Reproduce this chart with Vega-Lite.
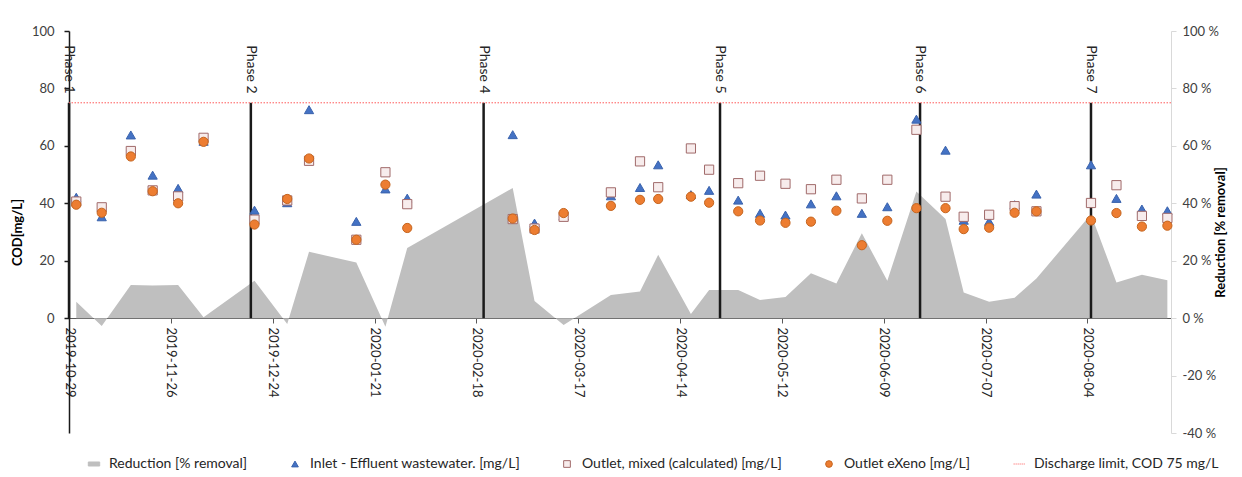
{
  "$schema": "https://vega.github.io/schema/vega-lite/v6.json",
  "width": 1102,
  "height": 402,
  "padding": {"left": 11, "top": 25, "right": 0, "bottom": 0},
  "background": "white",
  "config": {
    "font": "Lato",
    "view": {"stroke": null},
    "axis": {"grid": false}
  },
  "datasets": {
    "samples": [
      {"date": "2019-10-31", "inlet": 42.1, "mixed": 40.6, "exeno": 39.5, "reduction": 5.7},
      {"date": "2019-11-07", "inlet": 35.3, "mixed": 38.6, "exeno": 36.7, "reduction": -2.7},
      {"date": "2019-11-15", "inlet": 63.8, "mixed": 58.2, "exeno": 56.3, "reduction": 11.5},
      {"date": "2019-11-21", "inlet": 49.8, "mixed": 44.5, "exeno": 44.2, "reduction": 11.4},
      {"date": "2019-11-28", "inlet": 45.2, "mixed": 42.4, "exeno": 40.0, "reduction": 11.5},
      {"date": "2019-12-05", "inlet": 61.6, "mixed": 62.8, "exeno": 61.4, "reduction": 0.3},
      {"date": "2019-12-19", "inlet": 37.6, "mixed": 34.3, "exeno": 32.6, "reduction": 13.0},
      {"date": "2019-12-28", "inlet": 40.2, "mixed": 41.0, "exeno": 41.5, "reduction": -2.0},
      {"date": "2020-01-03", "inlet": 72.6, "mixed": 54.8, "exeno": 55.6, "reduction": 23.1},
      {"date": "2020-01-16", "inlet": 33.7, "mixed": 27.3, "exeno": 27.3, "reduction": 19.4},
      {"date": "2020-01-24", "inlet": 45.0, "mixed": 50.8, "exeno": 46.5, "reduction": -3.0},
      {"date": "2020-01-30", "inlet": 41.8, "mixed": 39.7, "exeno": 31.4, "reduction": 24.4},
      {"date": "2020-02-28", "inlet": 63.9, "mixed": 34.5, "exeno": 34.7, "reduction": 45.3},
      {"date": "2020-03-05", "inlet": 33.1, "mixed": 31.2, "exeno": 30.7, "reduction": 6.0},
      {"date": "2020-03-13", "inlet": 35.6, "mixed": 35.3, "exeno": 36.6, "reduction": -2.4},
      {"date": "2020-03-26", "inlet": 42.6, "mixed": 43.8, "exeno": 39.1, "reduction": 8.1},
      {"date": "2020-04-03", "inlet": 45.5, "mixed": 54.6, "exeno": 41.2, "reduction": 9.3},
      {"date": "2020-04-08", "inlet": 53.4, "mixed": 45.6, "exeno": 41.5, "reduction": 22.1},
      {"date": "2020-04-17", "inlet": 43.0, "mixed": 59.1, "exeno": 42.3, "reduction": 1.4},
      {"date": "2020-04-22", "inlet": 44.5, "mixed": 51.7, "exeno": 40.2, "reduction": 9.8},
      {"date": "2020-04-30", "inlet": 41.1, "mixed": 47.0, "exeno": 37.2, "reduction": 9.8},
      {"date": "2020-05-06", "inlet": 36.5, "mixed": 49.6, "exeno": 34.0, "reduction": 6.3},
      {"date": "2020-05-13", "inlet": 35.9, "mixed": 46.8, "exeno": 33.2, "reduction": 7.4},
      {"date": "2020-05-20", "inlet": 39.8, "mixed": 44.9, "exeno": 33.6, "reduction": 15.6},
      {"date": "2020-05-27", "inlet": 42.6, "mixed": 48.2, "exeno": 37.4, "reduction": 12.1},
      {"date": "2020-06-03", "inlet": 36.5, "mixed": 41.7, "exeno": 25.4, "reduction": 29.6},
      {"date": "2020-06-10", "inlet": 38.8, "mixed": 48.2, "exeno": 33.9, "reduction": 13.0},
      {"date": "2020-06-18", "inlet": 69.3, "mixed": 65.6, "exeno": 38.3, "reduction": 44.1},
      {"date": "2020-06-26", "inlet": 58.5, "mixed": 42.3, "exeno": 38.3, "reduction": 34.5},
      {"date": "2020-07-01", "inlet": 34.1, "mixed": 35.3, "exeno": 31.0, "reduction": 8.9},
      {"date": "2020-07-08", "inlet": 33.7, "mixed": 36.0, "exeno": 31.5, "reduction": 5.7},
      {"date": "2020-07-15", "inlet": 39.5, "mixed": 39.0, "exeno": 36.7, "reduction": 7.1},
      {"date": "2020-07-21", "inlet": 43.2, "mixed": 37.2, "exeno": 37.2, "reduction": 13.8},
      {"date": "2020-08-05", "inlet": 53.4, "mixed": 40.1, "exeno": 34.0, "reduction": 36.2},
      {"date": "2020-08-12", "inlet": 41.7, "mixed": 46.3, "exeno": 36.6, "reduction": 12.4},
      {"date": "2020-08-19", "inlet": 38.0, "mixed": 35.6, "exeno": 31.9, "reduction": 15.1},
      {"date": "2020-08-26", "inlet": 37.4, "mixed": 34.9, "exeno": 32.2, "reduction": 13.2}
    ],
    "phases": [
      {"phase": "Phase 1", "date": "2019-10-29"},
      {"phase": "Phase 2", "date": "2019-12-18"},
      {"phase": "Phase 4", "date": "2020-02-20"},
      {"phase": "Phase 5", "date": "2020-04-25"},
      {"phase": "Phase 6", "date": "2020-06-19"},
      {"phase": "Phase 7", "date": "2020-08-05"}
    ],
    "limit": [{"limit": 75}]
  },
  "layer": [
    {
      "data": {"name": "samples"},
      "mark": {"type": "area", "color": "#bfbfbf", "opacity": 1},
      "encoding": {
        "x": {
          "field": "date",
          "type": "temporal",
          "scale": {
            "type": "utc",
            "domain": [
              {"year": 2019, "month": 10, "date": 29, "utc": true},
              {"year": 2020, "month": 8, "date": 27, "utc": true}
            ]
          },
          "axis": {
            "orient": "bottom",
            "offset": -115,
            "title": null,
            "values": [
              {"year": 2019, "month": 10, "date": 29, "utc": true},
              {"year": 2019, "month": 11, "date": 26, "utc": true},
              {"year": 2019, "month": 12, "date": 24, "utc": true},
              {"year": 2020, "month": 1, "date": 21, "utc": true},
              {"year": 2020, "month": 2, "date": 18, "utc": true},
              {"year": 2020, "month": 3, "date": 17, "utc": true},
              {"year": 2020, "month": 4, "date": 14, "utc": true},
              {"year": 2020, "month": 5, "date": 12, "utc": true},
              {"year": 2020, "month": 6, "date": 9, "utc": true},
              {"year": 2020, "month": 7, "date": 7, "utc": true},
              {"year": 2020, "month": 8, "date": 4, "utc": true}
            ],
            "format": "%Y-%m-%d",
            "labelAngle": 90,
            "labelAlign": "left",
            "labelBaseline": "middle",
            "labelFontSize": 13,
            "labelColor": "#262626",
            "labelPadding": 4,
            "labelOverlap": false,
            "labelFlush": false,
            "tickColor": "#595959",
            "tickSize": 5,
            "domainColor": "#595959",
            "domainWidth": 1
          }
        },
        "y": {
          "field": "reduction",
          "type": "quantitative",
          "scale": {"domain": [-40, 100], "nice": false},
          "axis": {
            "orient": "right",
            "values": [-40, -20, 0, 20, 40, 60, 80, 100],
            "labelExpr": "datum.value + ' %'",
            "title": "Reduction [% removal]",
            "titleAngle": -90,
            "titleFontWeight": "bold",
            "titleFontSize": 13,
            "titleColor": "#000000",
            "titlePadding": 9,
            "domainColor": "#d9d9d9",
            "tickColor": "#d9d9d9",
            "tickSize": 5,
            "labelColor": "#404040",
            "labelFontSize": 13,
            "labelPadding": 6
          }
        },
        "y2": {"datum": 0}
      }
    },
    {
      "layer": [
        {
          "data": {"name": "phases"},
          "mark": {"type": "rule", "color": "#1a1a1a", "strokeWidth": 2.5},
          "encoding": {
            "x": {"field": "date", "type": "temporal"},
            "y": {"datum": 0, "type": "quantitative"},
            "y2": {"datum": 75}
          }
        },
        {
          "data": {"name": "limit"},
          "mark": {"type": "rule", "color": "#ff5a5a", "strokeDash": [1.5, 1.5], "strokeWidth": 1},
          "encoding": {
            "y": {"field": "limit", "type": "quantitative"}
          }
        },
        {
          "data": {"name": "samples"},
          "transform": [{"fold": ["inlet", "mixed", "exeno"], "as": ["series", "value"]}],
          "mark": {"type": "point", "filled": true, "size": 85, "strokeWidth": 1, "opacity": 1},
          "encoding": {
            "x": {"field": "date", "type": "temporal"},
            "y": {
              "field": "value",
              "type": "quantitative",
              "scale": {"domain": [-40, 100], "nice": false},
              "axis": {
                "orient": "left",
                "values": [0, 20, 40, 60, 80, 100],
                "title": "COD[mg/L]",
                "titleFontWeight": "bold",
                "titleFontSize": 13,
                "titleColor": "#000000",
                "titlePadding": 7,
                "domainColor": "#1a1a1a",
                "domainWidth": 1.5,
                "tickColor": "#1a1a1a",
                "tickWidth": 1.5,
                "tickSize": 5,
                "labelColor": "#404040",
                "labelFontSize": 13,
                "labelPadding": 10
              }
            },
            "shape": {
              "field": "series",
              "type": "nominal",
              "scale": {
                "domain": ["reduction", "inlet", "mixed", "exeno", "limit"],
                "range": [
                  "M-1.7,-0.6H1.7V0.6H-1.7Z",
                  "triangle-up",
                  "square",
                  "circle",
                  "M-1.6,0H-1.3M-1.0,0H-0.7M-0.4,0H-0.1M0.2,0H0.5M0.8,0H1.1M1.4,0H1.7"
                ]
              },
              "legend": {
                "orient": "none",
                "legendX": 18,
                "legendY": 426,
                "direction": "horizontal",
                "title": null,
                "labelExpr": "datum.label == 'reduction' ? 'Reduction [% removal]' : datum.label == 'inlet' ? 'Inlet - Effluent wastewater. [mg/L]' : datum.label == 'mixed' ? 'Outlet, mixed (calculated) [mg/L]' : datum.label == 'exeno' ? 'Outlet eXeno [mg/L]' : 'Discharge limit, COD 75 mg/L'",
                "labelFontSize": 14,
                "labelColor": "#262626",
                "labelLimit": 400,
                "symbolSize": 45,
                "symbolStrokeWidth": 1,
                "columnPadding": 40,
                "labelOffset": 8
              }
            },
            "fill": {
              "field": "series",
              "type": "nominal",
              "scale": {
                "domain": ["reduction", "inlet", "mixed", "exeno", "limit"],
                "range": ["#bfbfbf", "#4472c4", "#f7ecec", "#ed7d31", "transparent"]
              },
              "legend": {"title": null}
            },
            "stroke": {
              "field": "series",
              "type": "nominal",
              "scale": {
                "domain": ["reduction", "inlet", "mixed", "exeno", "limit"],
                "range": ["#bfbfbf", "#3a63ad", "#a06a6a", "#c5651f", "#ff5a5a"]
              },
              "legend": {"title": null}
            }
          }
        },
        {
          "data": {"name": "phases"},
          "mark": {"type": "text", "angle": 90, "align": "left", "baseline": "middle", "fontSize": 14, "color": "#262626"},
          "encoding": {
            "x": {"field": "date", "type": "temporal"},
            "y": {"datum": 95, "type": "quantitative"},
            "text": {"field": "phase"}
          }
        }
      ]
    }
  ],
  "resolve": {"scale": {"y": "independent"}}
}
